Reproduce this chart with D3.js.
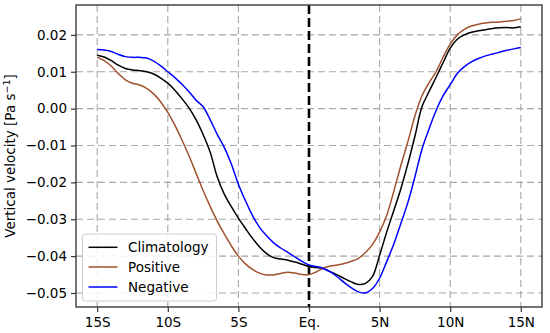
<!DOCTYPE html>
<html>
<head>
<meta charset="utf-8">
<script src="https://cdn.jsdelivr.net/npm/d3@7"></script>
<style>
  html, body { margin: 0; padding: 0; background: #fff; }
  svg { display: block; }
  text { font-family: "DejaVu Sans", sans-serif; }
</style>
</head>
<body>
<script>
const lats = [-15,-14.5,-14,-13.5,-13,-12.5,-12,-11.5,-11,-10.5,-10,-9.5,-9,-8.5,-8,-7.5,-7,-6.5,-6,-5.5,-5,-4.5,-4,-3.5,-3,-2.5,-2,-1.5,-1,-0.5,0,0.5,1,1.5,2,2.5,3,3.5,4,4.5,5,5.5,6,6.5,7,7.5,8,8.5,9,9.5,10,10.5,11,11.5,12,12.5,13,13.5,14,14.5,15];

const climatology = [0.0145,0.0140,0.0130,0.0118,0.0109,0.0105,0.0103,0.0100,0.0094,0.0083,0.0069,0.0050,0.0027,0.0002,-0.0030,-0.0070,-0.0118,-0.0185,-0.0232,-0.0266,-0.0297,-0.0325,-0.0352,-0.0375,-0.0393,-0.0404,-0.0408,-0.0411,-0.0416,-0.0422,-0.0428,-0.0431,-0.0434,-0.0442,-0.0451,-0.0461,-0.0470,-0.0477,-0.0474,-0.0455,-0.0398,-0.0335,-0.0277,-0.0218,-0.0150,-0.0075,0.0005,0.0046,0.0085,0.0125,0.0164,0.0188,0.0200,0.0207,0.0211,0.0214,0.0217,0.0219,0.0220,0.0219,0.0222];

const positive = [0.0139,0.0130,0.0115,0.0095,0.0078,0.0069,0.0064,0.0055,0.0040,0.0018,-0.0010,-0.0045,-0.0085,-0.0128,-0.0175,-0.0222,-0.0265,-0.0305,-0.0340,-0.0372,-0.0400,-0.0421,-0.0436,-0.0446,-0.0451,-0.0451,-0.0447,-0.0444,-0.0446,-0.0450,-0.0450,-0.0443,-0.0433,-0.0427,-0.0424,-0.0420,-0.0414,-0.0406,-0.0390,-0.0368,-0.0335,-0.0290,-0.0225,-0.0155,-0.0090,-0.0020,0.0035,0.0070,0.0100,0.0140,0.0175,0.0200,0.0215,0.0224,0.0229,0.0232,0.0234,0.0235,0.0237,0.0239,0.0244];

const negative = [0.0160,0.0159,0.0155,0.0147,0.0141,0.0139,0.0139,0.0137,0.0129,0.0116,0.0100,0.0084,0.0066,0.0046,0.0023,0.0005,-0.0030,-0.0070,-0.0105,-0.0150,-0.0205,-0.0250,-0.0290,-0.0322,-0.0345,-0.0364,-0.0378,-0.0390,-0.0402,-0.0414,-0.0424,-0.0428,-0.0433,-0.0443,-0.0456,-0.0472,-0.0486,-0.0497,-0.0500,-0.0488,-0.0460,-0.0415,-0.0368,-0.0312,-0.0255,-0.0185,-0.0110,-0.0055,-0.0005,0.0035,0.0065,0.0095,0.0114,0.0127,0.0136,0.0143,0.0148,0.0153,0.0158,0.0162,0.0166];

const xTickValues = [-15,-10,-5,0,5,10,15];
const xTickLabels = ["15S","10S","5S","Eq.","5N","10N","15N"];
const yTickValues = [0.02,0.01,0.00,-0.01,-0.02,-0.03,-0.04,-0.05];
const yTickLabels = ["0.02","0.01","0.00","\u22120.01","\u22120.02","\u22120.03","\u22120.04","\u22120.05"];

const seriesNames = ["Climatology","Positive","Negative"];
const seriesColors = ["#000000","#a0522d","#0000ff"];
const seriesData = [climatology, positive, negative];

const W = 550, H = 333;
const mL = 76, mR = 542, mT = 5, mB = 307;

const x = d3.scaleLinear().domain([-16.5, 16.5]).range([mL, mR]);
const y = d3.scaleLinear().domain([-0.0538, 0.0281]).range([mB, mT]);

const svg = d3.select("body").append("svg").attr("width", W).attr("height", H);

// grid
const grid = svg.append("g");
grid.selectAll("line.gx").data(xTickValues.filter(v => v !== 0)).enter().append("line")
  .attr("x1", d => x(d)).attr("x2", d => x(d)).attr("y1", mT).attr("y2", mB)
  .attr("stroke", "#a8a8a8").attr("stroke-width", 1.1).attr("stroke-dasharray", "7,4");
grid.selectAll("line.gy").data(yTickValues).enter().append("line")
  .attr("x1", mL).attr("x2", mR).attr("y1", d => y(d)).attr("y2", d => y(d))
  .attr("stroke", "#a8a8a8").attr("stroke-width", 1.1).attr("stroke-dasharray", "7,4");

// equator line
svg.append("line")
  .attr("x1", x(0)).attr("x2", x(0)).attr("y1", mT).attr("y2", mB)
  .attr("stroke", "#000").attr("stroke-width", 2.6).attr("stroke-dasharray", "9,4");

// series lines
const line = d3.line().x((d, i) => x(lats[i])).y(d => y(d)).curve(d3.curveCatmullRom.alpha(0.5));
seriesData.forEach((s, k) => {
  svg.append("path").datum(s).attr("d", line)
    .attr("fill", "none").attr("stroke", seriesColors[k]).attr("stroke-width", 1.5);
});

// axes
const xAxis = d3.axisBottom(x).tickValues(xTickValues).tickFormat((d, i) => xTickLabels[i]).tickSize(5).tickPadding(5);
const yAxis = d3.axisLeft(y).tickValues(yTickValues).tickFormat((d, i) => yTickLabels[i]).tickSize(5).tickPadding(4);

const gx = svg.append("g").attr("transform", `translate(0,${mB})`).call(xAxis);
const gy = svg.append("g").attr("transform", `translate(${mL},0)`).call(yAxis);
[gx, gy].forEach(g => {
  g.select(".domain").remove();
  g.selectAll(".tick line").attr("stroke", "#333").attr("stroke-width", 1.2);
  g.selectAll(".tick text").attr("fill", "#000").style("font-size", "13.5px").style("font-family", "DejaVu Sans");
});

// frame
svg.append("rect").attr("x", mL).attr("y", mT).attr("width", mR - mL).attr("height", mB - mT)
  .attr("fill", "none").attr("stroke", "#3a3a3a").attr("stroke-width", 1.4);

// y label
const yl = svg.append("text")
  .attr("transform", `translate(15,${(mT + mB) / 2}) rotate(-90)`)
  .attr("text-anchor", "middle")
  .style("font-size", "13.5px").attr("fill", "#000");
yl.append("tspan").text("Vertical velocity [Pa s");
yl.append("tspan").attr("dy", -5).style("font-size", "9.5px").text("\u22121");
yl.append("tspan").attr("dy", 5).text("]");

// legend
const lg = svg.append("g");
lg.append("rect").attr("x", 82.5).attr("y", 234).attr("width", 134).attr("height", 67)
  .attr("rx", 3).attr("fill", "#fff").attr("fill-opacity", 0.85).attr("stroke", "#cccccc").attr("stroke-width", 1);
const legY = [247.3, 267, 287];
seriesNames.forEach((n, k) => {
  lg.append("line").attr("x1", 88.5).attr("x2", 117.5).attr("y1", legY[k]).attr("y2", legY[k])
    .attr("stroke", seriesColors[k]).attr("stroke-width", 1.5);
  lg.append("text").attr("x", 128).attr("y", legY[k]).attr("dy", "0.35em")
    .style("font-size", "13.5px").attr("fill", "#000").text(n);
});
</script>
</body>
</html>
